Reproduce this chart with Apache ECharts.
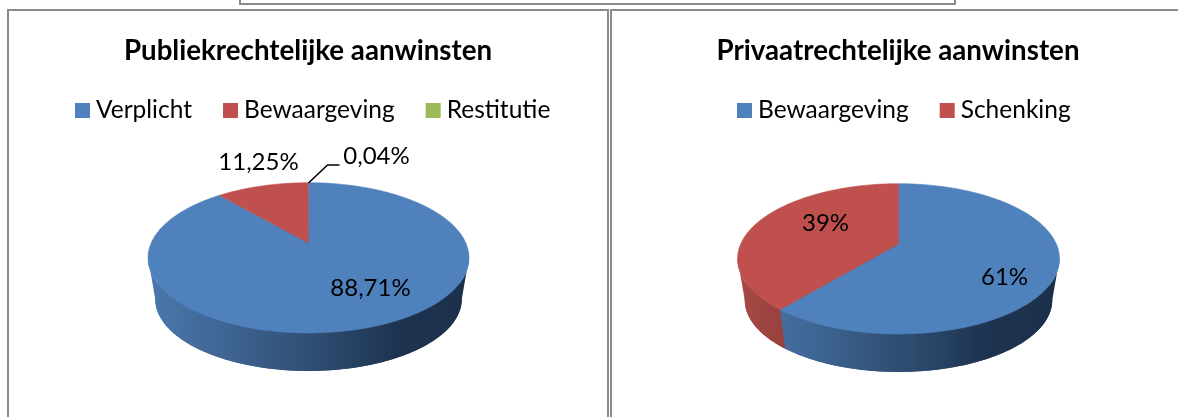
<!DOCTYPE html>
<html lang="nl">
<head>
    <meta charset="UTF-8">
    <title>Aanwinsten</title>
    <style>
        html, body { margin: 0; padding: 0; background: #fff; }
        #chart { width: 1178px; height: 417px; }
    </style>
</head>
<body>
<div id="chart"></div>
<script src="https://cdn.jsdelivr.net/npm/echarts@6/dist/echarts.min.js"></script>
<script type="text/javascript">
    // data
    var pubNames = ['Verplicht', 'Bewaargeving', 'Restitutie'];
    var pubValues = [88.71, 11.25, 0.04];
    var privNames = ['Bewaargeving', 'Schenking'];
    var privValues = [61, 39];

    var BLUE = '#4f81bd', RED = '#c0504d', GREEN = '#9bbb59';
    var FONT = 'Lato';

    // perspective of the excel 3d pie
    var K = 0.1976;
    var FRONT_START = Math.PI - Math.acos(K), FRONT_END = Math.PI + Math.acos(K);

    function project(pie, angle, lower) {
        var s = lower ? pie.shrink : 1;
        var d = 1 + K * Math.cos(angle);
        return [
            pie.cx + s * pie.rx * Math.sin(angle) / d,
            pie.cy + (lower ? pie.drop : 0) - s * pie.ry * Math.cos(angle) / d
        ];
    }

    var leftPie = {cx: 308.5, cy: 243, rx: 157.3, ry: 72.2, shrink: 0.955, drop: 42};
    var rightPie = {cx: 898.5, cy: 244, rx: 157.8, ry: 72.2, shrink: 0.955, drop: 42};

    function sideFill(pie, isRed) {
        var x0 = pie.cx - 160, x1 = pie.cx + 160;
        var stops = isRed
            ? [{offset: 0, color: '#a84945'}, {offset: 0.2, color: '#8f3e3b'}, {offset: 1, color: '#5e2826'}]
            : [{offset: 0, color: '#4a78ad'}, {offset: 0.25, color: '#3e6492'},
               {offset: 0.55, color: '#2c4a6e'}, {offset: 0.78, color: '#1e334f'}, {offset: 1, color: '#1c304b'}];
        return new echarts.graphic.LinearGradient(x0, 0, x1, 0, stops, true);
    }

    function arcPoints(pie, a0, a1, lower) {
        var pts = [], n = Math.max(2, Math.ceil((a1 - a0) / 0.02));
        for (var i = 0; i <= n; i++) {
            pts.push(project(pie, a0 + (a1 - a0) * i / n, lower));
        }
        return pts;
    }

    // one series per slice so the legend can list them
    function sliceSeries(pie, names, values, colors, i) {
        var total = values.reduce(function (a, b) { return a + b; }, 0);
        var before = 0;
        for (var j = 0; j < i; j++) before += values[j];
        var a0 = before / total * Math.PI * 2;
        var a1 = (before + values[i]) / total * Math.PI * 2;
        var tiny = values[i] / total < 0.001;
        return {
            name: names[i],
            type: 'custom',
            coordinateSystem: 'none',
            itemStyle: {color: colors[i]},
            silent: true,
            data: [[values[i]]],
            renderItem: function () {
                var fill = sideFill(pie, colors[i] === RED);
                var kids = [
                    // floor of the pie, fills the round edge left and right
                    {type: 'polygon', z2: 0, shape: {points: [[pie.cx, pie.cy + pie.drop]].concat(arcPoints(pie, a0, a1, true))},
                        style: {fill: fill}},
                    // thin stroke closes the seam between the wedges, a tiny slice stays under it
                    {type: 'polygon', z2: tiny ? 1.5 : 2, shape: {points: [[pie.cx, pie.cy]].concat(arcPoints(pie, a0, a1, false))},
                        style: {fill: colors[i], stroke: tiny ? null : colors[i], lineWidth: 0.6}}
                ];
                // only the front part of the rim is seen
                var s0 = Math.max(a0, FRONT_START), s1 = Math.min(a1, FRONT_END);
                if (s1 > s0) {
                    kids.push({type: 'polygon', z2: 1,
                        shape: {points: arcPoints(pie, s0, s1, false).concat(arcPoints(pie, s0, s1, true).reverse())},
                        style: {fill: fill}});
                }
                return {type: 'group', children: kids};
            }
        };
    }

    function pieLabels(pie, texts, offsets) {
        return texts.map(function (t, i) {
            return {
                type: 'text', z: 20, x: pie.cx + offsets[i][0], y: pie.cy + offsets[i][1],
                style: {text: t, font: '24px ' + FONT, fill: '#000', align: 'center', verticalAlign: 'middle'}
            };
        });
    }

    function frame(x, y, w, h) {
        return {type: 'rect', z: 0, shape: {x: x, y: y, width: w, height: h},
            style: {fill: 'none', stroke: '#8c8c8c', lineWidth: 2}};
    }

    var series = [];
    pubNames.forEach(function (n, i) {
        series.push(sliceSeries(leftPie, pubNames, pubValues, [BLUE, RED, GREEN], i));
    });
    privNames.forEach(function (n, i) {
        series.push(sliceSeries(rightPie, privNames, privValues, [BLUE, RED], i));
    });

    var pubLabels = pubValues.map(function (v) { return v.toFixed(2).replace('.', ',') + '%'; });
    var privLabels = privValues.map(function (v) { return v + '%'; });

    var graphics = [
        frame(240, -10, 715, 14),
        frame(8, 10, 600, 420),
        frame(611, 10, 600, 420)
    ].concat(
        pieLabels(leftPie, pubLabels, [[62, 45], [-50, -81], [68, -87]]),
        pieLabels(rightPie, privLabels, [[106, 33], [-73, -21]])
    );
    // leader line of the smallest slice
    graphics.push({
        type: 'polyline', z: 20,
        shape: {points: [[leftPie.cx, leftPie.cy - 60], [leftPie.cx + 19, leftPie.cy - 78], [leftPie.cx + 31, leftPie.cy - 78]]},
        style: {fill: 'none', stroke: '#000', lineWidth: 1.5}
    });

    var legendText = {fontFamily: FONT, fontSize: 24.5, color: '#000', padding: [0, 0, 0, 1]};
    var titleText = {fontFamily: FONT, fontSize: 27.7, fontWeight: 'bold', color: '#000'};

    function legendItems(names, colors) {
        return names.map(function (n, i) {
            return {name: n, itemStyle: {color: colors[i]}};
        });
    }

    var option = {
        animation: false,
        title: [
            {text: 'Publiekrechtelijke aanwinsten', left: 308, top: 37, padding: 0, textAlign: 'center', textStyle: titleText},
            {text: 'Privaatrechtelijke aanwinsten', left: 898, top: 37, padding: 0, textAlign: 'center', textStyle: titleText}
        ],
        legend: [
            {data: legendItems(pubNames, [BLUE, RED, GREEN]), left: 75, top: 98, padding: 0, icon: 'rect',
                itemWidth: 15, itemHeight: 15, itemGap: 31, selectedMode: false, textStyle: legendText},
            {data: legendItems(privNames, [BLUE, RED]), left: 737, top: 98, padding: 0, icon: 'rect',
                itemWidth: 15, itemHeight: 15, itemGap: 31, selectedMode: false, textStyle: legendText}
        ],
        graphic: graphics,
        series: series
    };

    var myChart = echarts.init(document.getElementById('chart'));
    myChart.setOption(option);
</script>
</body>
</html>
